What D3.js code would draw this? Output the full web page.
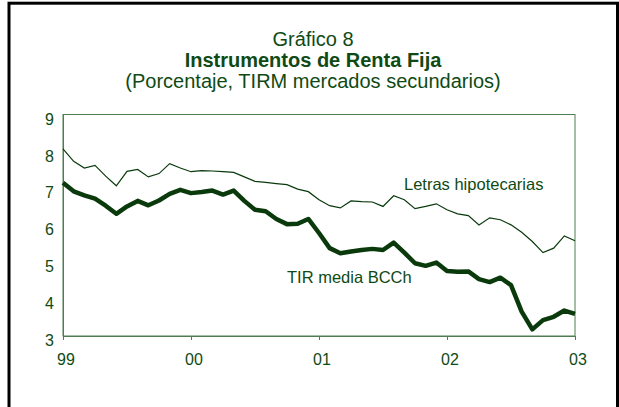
<!DOCTYPE html>
<html>
<head>
<meta charset="utf-8">
<script src="https://cdn.jsdelivr.net/npm/d3@7"></script>
<style>
  body { margin: 0; background: #fff; }
  text { font-family: "Liberation Sans", Arial, sans-serif; fill: #0f4a14; }
</style>
</head>
<body>
<div id="chart"></div>
<script>
// Monthly series, Jan 1999 .. Jan 2003
var letras = [8.07, 7.73, 7.55, 7.62, 7.33, 7.07, 7.46, 7.51, 7.31, 7.40, 7.67, 7.55,
              7.45, 7.48, 7.47, 7.45, 7.43, 7.31, 7.19, 7.16, 7.13, 7.10, 6.98, 6.91,
              6.69, 6.53, 6.47, 6.66, 6.64, 6.63, 6.51, 6.80, 6.69, 6.45, 6.51, 6.58,
              6.42, 6.31, 6.26, 6.01, 6.20, 6.15, 6.01, 5.81, 5.56, 5.26, 5.38, 5.71,
              5.58];
var tirMedia = [7.15, 6.92, 6.81, 6.72, 6.53, 6.31, 6.51, 6.66, 6.54, 6.67, 6.85, 6.96,
                6.87, 6.90, 6.94, 6.83, 6.94, 6.66, 6.42, 6.38, 6.17, 6.03, 6.04, 6.17,
                5.79, 5.38, 5.24, 5.29, 5.33, 5.36, 5.33, 5.53, 5.26, 4.97, 4.90, 4.99,
                4.76, 4.74, 4.75, 4.54, 4.46, 4.58, 4.38, 3.66, 3.18, 3.43, 3.52, 3.69,
                3.60];
var yearLabels = ["99", "00", "01", "02", "03"];
var yTicks = [3, 4, 5, 6, 7, 8, 9];

var width = 619, height = 407;
var margin = { top: 114.5, right: 44, bottom: 71, left: 63 };
var ink = "#0f4a14";
var lineInk = "#0a3a0c";
var frameInk = "#4f7d4f";

var svg = d3.select("#chart").append("svg")
  .attr("width", width)
  .attr("height", height);

// outer black box
svg.append("rect")
  .attr("x", 9).attr("y", 3.2)
  .attr("width", 608.5).attr("height", 430)
  .attr("fill", "#fff")
  .attr("stroke", "#000")
  .attr("stroke-width", 3);

// titles
var titles = [
  { text: "Gráfico 8", y: 46, weight: "normal" },
  { text: "Instrumentos de Renta Fija", y: 67, weight: "bold" },
  { text: "(Porcentaje, TIRM mercados secundarios)", y: 88, weight: "normal" }
];
svg.selectAll("text.title").data(titles).enter().append("text")
  .attr("class", "title")
  .attr("x", 313)
  .attr("y", d => d.y)
  .attr("text-anchor", "middle")
  .style("font-size", "20px")
  .style("font-weight", d => d.weight)
  .text(d => d.text);

var x = d3.scaleLinear()
  .domain([0, letras.length - 1])
  .range([margin.left, width - margin.right]);

var y = d3.scaleLinear()
  .domain([3, 9])
  .range([height - margin.bottom, margin.top]);

// plot frame
svg.append("rect")
  .attr("x", x(0)).attr("y", y(9))
  .attr("width", x(48) - x(0)).attr("height", y(3) - y(9))
  .attr("fill", "none")
  .attr("stroke", frameInk)
  .attr("stroke-width", 1);

// y axis
var leftAxis = d3.axisLeft(y).tickValues(yTicks).tickSize(0).tickPadding(9)
  .tickFormat(d3.format("d"));
var gy = svg.append("g")
  .attr("transform", `translate(${x(0)},0)`)
  .call(leftAxis);
gy.select(".domain").attr("stroke", frameInk);
gy.selectAll("text")
  .style("font-size", "16px")
  .attr("fill", ink)
  .attr("dy", "0.35em")
  .attr("y", 4);

// x axis
var bottomAxis = d3.axisBottom(x).tickValues([0, 12, 24, 36, 48])
  .tickSize(4).tickPadding(14)
  .tickFormat((d, i) => yearLabels[i]);
var gx = svg.append("g")
  .attr("transform", `translate(0,${y(3)})`)
  .call(bottomAxis);
gx.select(".domain").attr("stroke", frameInk);
gx.selectAll(".tick line").attr("stroke", frameInk);
gx.selectAll("text")
  .style("font-size", "16px")
  .attr("fill", ink)
  .attr("dx", "2.5");

var line = d3.line()
  .x((d, i) => x(i))
  .y(d => y(d));

svg.append("path")
  .datum(letras)
  .attr("d", line)
  .attr("fill", "none")
  .attr("stroke", lineInk)
  .attr("stroke-width", 1.2);

svg.append("path")
  .datum(tirMedia)
  .attr("d", line)
  .attr("fill", "none")
  .attr("stroke", lineInk)
  .attr("stroke-width", 4.5)
  .attr("stroke-linejoin", "round");

// series labels
svg.append("text")
  .attr("x", 404).attr("y", 190)
  .style("font-size", "16.5px")
  .text("Letras hipotecarias");

svg.append("text")
  .attr("x", 287).attr("y", 283)
  .style("font-size", "16.5px")
  .text("TIR media BCCh");
</script>
</body>
</html>
